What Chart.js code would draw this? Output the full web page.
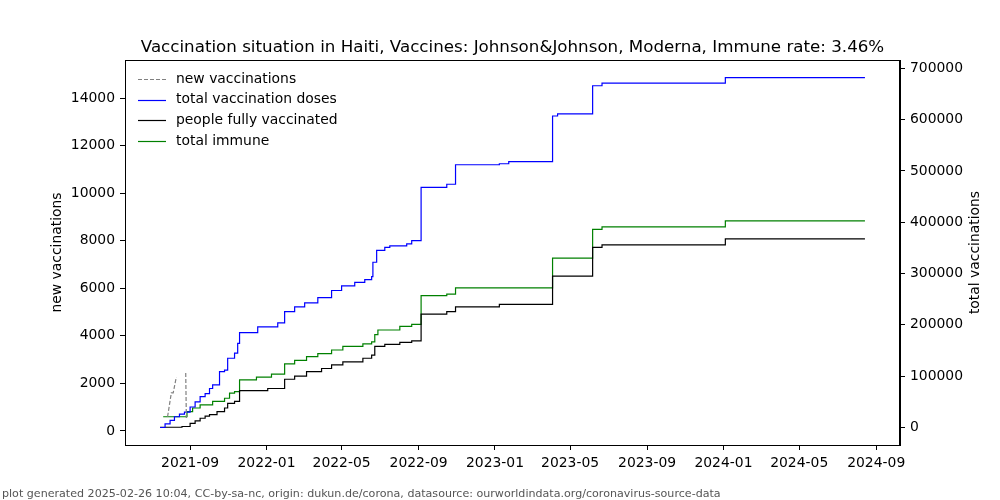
<!DOCTYPE html>
<html>
<head>
<meta charset="utf-8">
<script src="https://cdn.jsdelivr.net/npm/chart.js@4.4.1/dist/chart.umd.min.js"></script>
<style>
  body { margin: 0; background: #fff; }
</style>
</head>
<body>
<canvas id="vaccChart" width="1000" height="500"></canvas>
<script>
// Daten
var titleText = 'Vaccination situation in Haiti, Vaccines: Johnson&Johnson, Moderna, Immune rate: 3.46%';
var footerText = 'plot generated 2025-02-26 10:04, CC-by-sa-nc, origin: dukun.de/corona, datasource: ourworldindata.org/coronavirus-source-data';

var xTickLabels = ['2021-09', '2022-01', '2022-05', '2022-09', '2023-01', '2023-05', '2023-09', '2024-01', '2024-05', '2024-09'];
var leftTicks = [0, 2000, 4000, 6000, 8000, 10000, 12000, 14000];
var rightTicks = [0, 100000, 200000, 300000, 400000, 500000, 600000, 700000];
var xRange = ['2021-05-20', '2024-10-09'];

var newDates = ['2021-07-27', '2021-08-02', '2021-08-05', '2021-08-10', '2021-08-15', '2021-08-25', '2021-08-26'];
var newValues = [600, 1600, 1600, 2270, null, 2440, 550];

var dosesDates = ['2021-07-15', '2021-07-23', '2021-07-31', '2021-08-07', '2021-08-15', '2021-08-23', '2021-09-01',
  '2021-09-09', '2021-09-17', '2021-09-25', '2021-10-02', '2021-10-07', '2021-10-18', '2021-10-26', '2021-10-31',
  '2021-11-11', '2021-11-16', '2021-11-19', '2021-12-18', '2022-01-19', '2022-01-30', '2022-02-15', '2022-03-03',
  '2022-03-24', '2022-04-15', '2022-05-01', '2022-05-22', '2022-06-07', '2022-06-18', '2022-06-20', '2022-06-26',
  '2022-07-09', '2022-07-17', '2022-08-13', '2022-08-21', '2022-09-05', '2022-10-16', '2022-10-30', '2023-01-08',
  '2023-01-23', '2023-04-03', '2023-04-11', '2023-06-06', '2023-06-21', '2024-01-04', '2024-08-14'];
var dosesValues = [0, 7000, 14000, 21000, 26000, 30000, 40000,
  50000, 60000, 66000, 76000, 83000, 109000, 112000, 135000,
  145000, 164000, 185000, 196000, 204000, 226000, 235000, 243000,
  253000, 267000, 276000, 283000, 288000, 294000, 322000, 345000,
  351000, 354000, 358000, 364000, 468000, 474000, 512000, 514000,
  518000, 607000, 611000, 666000, 671000, 682000, 682000];

var fullyDates = ['2021-07-15', '2021-08-19', '2021-09-01', '2021-09-09', '2021-09-17', '2021-09-25', '2021-10-02',
  '2021-10-14', '2021-10-26', '2021-10-31', '2021-11-11', '2021-11-19', '2022-01-03', '2022-01-30', '2022-02-15',
  '2022-03-06', '2022-03-30', '2022-04-15', '2022-05-03', '2022-06-04', '2022-06-18', '2022-06-23', '2022-07-09',
  '2022-08-02', '2022-08-21', '2022-09-05', '2022-10-16', '2022-10-30', '2023-01-08', '2023-04-03', '2023-06-06',
  '2023-06-21', '2024-01-04', '2024-08-14'];
var fullyValues = [500, 2000, 8000, 13000, 18000, 22000, 25000,
  31000, 38000, 47000, 51000, 72000, 76000, 94000, 100000,
  109000, 115000, 122000, 128000, 135000, 141000, 158000, 162000,
  166000, 169000, 221000, 226000, 235000, 240000, 295000, 351000,
  356000, 367500, 367500];

var immuneDates = ['2021-07-20', '2021-08-27', '2021-09-05', '2021-09-17', '2021-10-07', '2021-10-26', '2021-11-03',
  '2021-11-11', '2021-11-19', '2021-12-16', '2022-01-09', '2022-01-30', '2022-02-15', '2022-03-06', '2022-03-24',
  '2022-04-15', '2022-05-03', '2022-06-04', '2022-06-18', '2022-06-23', '2022-06-28', '2022-08-02', '2022-08-21',
  '2022-09-05', '2022-10-16', '2022-10-30', '2023-04-03', '2023-06-06', '2023-06-21', '2024-01-04', '2024-08-14'];
var immuneValues = [21000, 31000, 38000, 44000, 51000, 57000, 67000,
  70000, 93000, 98000, 104000, 124000, 131000, 138000, 144000,
  151000, 158000, 163000, 167000, 181000, 190000, 197000, 201000,
  257000, 260000, 272000, 330000, 386000, 391000, 402500, 402500];

var fontFamily = "'DejaVu Sans'";
Chart.defaults.font.family = fontFamily;
Chart.defaults.font.size = 13.9;
Chart.defaults.color = '#000';

function toPoints(dates, values) {
    return dates.map(function (d, i) {
        return { x: Date.parse(d), y: values[i] };
    });
}

// Legende, Rahmen, rechte Achsenbeschriftung und Fusszeile
var extrasPlugin = {
    id: 'extras',
    afterDraw: function (chart) {
        var ctx = chart.ctx;
        var area = chart.chartArea;
        ctx.save();

        ctx.strokeStyle = '#000';
        ctx.lineWidth = 1;
        ctx.setLineDash([]);
        ctx.strokeRect(Math.round(area.left) + 0.5, Math.round(area.top) + 0.5,
            Math.round(area.right - area.left) - 1, Math.round(area.bottom - area.top));

        ctx.font = '13.9px ' + fontFamily;
        ctx.textBaseline = 'middle';
        chart.data.datasets.forEach(function (ds, i) {
            var y = 79 + i * 20.7;
            ctx.strokeStyle = ds.borderColor;
            ctx.lineWidth = 1.2;
            ctx.setLineDash(ds.borderDash || []);
            ctx.beginPath();
            ctx.moveTo(138, Math.round(y) + 0.5);
            ctx.lineTo(166, Math.round(y) + 0.5);
            ctx.stroke();
            ctx.fillStyle = '#000';
            ctx.textAlign = 'left';
            ctx.fillText(ds.label, 176, y);
        });
        ctx.setLineDash([]);

        ctx.translate(975, (area.top + area.bottom) / 2);
        ctx.rotate(-Math.PI / 2);
        ctx.textAlign = 'center';
        ctx.fillText('total vaccinations', 0, 0);
        ctx.restore();

        ctx.save();
        ctx.font = '11.1px ' + fontFamily;
        ctx.fillStyle = '#555';
        ctx.textAlign = 'left';
        ctx.textBaseline = 'middle';
        ctx.fillText(footerText, 2, 494);
        ctx.restore();
    }
};

var axisGrid = {
    drawOnChartArea: false,
    color: '#000',
    tickLength: 5,
    tickWidth: 1
};

var vaccCanvas = document.getElementById('vaccChart');

var vaccChart = new Chart(vaccCanvas, {
    type: 'line',
    data: {
        datasets: [{
            label: 'new vaccinations',
            data: toPoints(newDates, newValues),
            yAxisID: 'y',
            borderColor: 'gray',
            borderWidth: 1.2,
            borderDash: [4, 2],
            pointRadius: 0,
            spanGaps: false
        }, {
            label: 'total vaccination doses',
            data: toPoints(dosesDates, dosesValues),
            yAxisID: 'y2',
            borderColor: 'blue',
            borderWidth: 1.2,
            stepped: true,
            pointRadius: 0
        }, {
            label: 'people fully vaccinated',
            data: toPoints(fullyDates, fullyValues),
            yAxisID: 'y2',
            borderColor: 'black',
            borderWidth: 1.2,
            stepped: true,
            pointRadius: 0
        }, {
            label: 'total immune',
            data: toPoints(immuneDates, immuneValues),
            yAxisID: 'y2',
            borderColor: 'green',
            borderWidth: 1.2,
            stepped: true,
            pointRadius: 0
        }]
    },
    options: {
        responsive: false,
        devicePixelRatio: 1,
        animation: false,
        layout: { padding: 0 },
        plugins: {
            legend: { display: false },
            tooltip: { enabled: false },
            title: {
                display: true,
                text: titleText,
                fullSize: false,
                color: '#000',
                font: { size: 16.7, weight: 'normal' },
                padding: { top: 38, bottom: 2 }
            }
        },
        scales: {
            x: {
                type: 'linear',
                min: Date.parse(xRange[0]),
                max: Date.parse(xRange[1]),
                grid: axisGrid,
                border: { display: true, color: '#000' },
                afterBuildTicks: function (scale) {
                    scale.ticks = xTickLabels.map(function (l) {
                        return { value: Date.parse(l + '-01') };
                    });
                },
                afterFit: function (scale) { scale.height = 55; },
                ticks: {
                    autoSkip: false,
                    maxRotation: 0,
                    padding: 5,
                    callback: function (v, i) { return xTickLabels[i]; }
                }
            },
            y: {
                position: 'left',
                min: -589,
                max: 15598,
                grid: axisGrid,
                border: { display: true, color: '#000' },
                afterBuildTicks: function (scale) {
                    scale.ticks = leftTicks.map(function (v) { return { value: v }; });
                },
                afterFit: function (scale) { scale.width = 125; },
                ticks: {
                    padding: 5,
                    callback: function (v) { return String(v); }
                },
                title: {
                    display: true,
                    text: 'new vaccinations',
                    color: '#000',
                    padding: { top: 49, bottom: 0 }
                }
            },
            y2: {
                position: 'right',
                min: -34100,
                max: 716100,
                grid: axisGrid,
                border: { display: true, color: '#000' },
                afterBuildTicks: function (scale) {
                    scale.ticks = rightTicks.map(function (v) { return { value: v }; });
                },
                afterFit: function (scale) { scale.width = 100; },
                ticks: {
                    padding: 5,
                    callback: function (v) { return String(v); }
                }
            }
        }
    },
    plugins: [extrasPlugin]
});
</script>
</body>
</html>
